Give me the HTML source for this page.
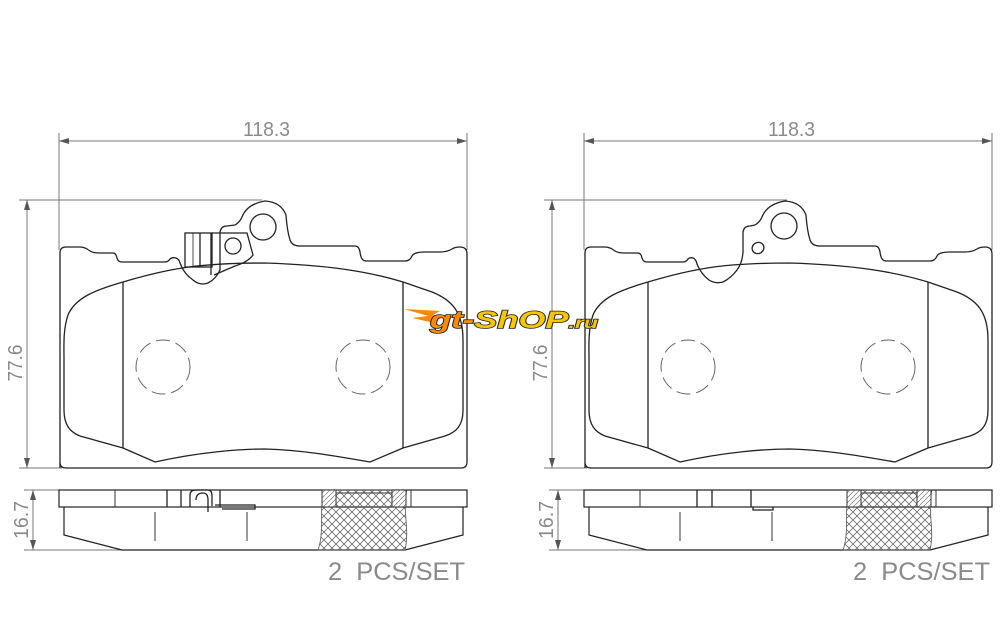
<!DOCTYPE html>
<html><head><meta charset="utf-8"><style>
html,body{margin:0;padding:0;background:#fff;}
svg{display:block}
text{font-family:"Liberation Sans",sans-serif;fill:#8a8a8a;}
</style></head><body>
<svg width="1000" height="636" viewBox="0 0 1000 636" xmlns="http://www.w3.org/2000/svg">
<defs>
<pattern id="hx" width="8" height="8" patternUnits="userSpaceOnUse">
<path d="M0 0L8 8M8 0L0 8" stroke="#555" stroke-width="0.7"/>
</pattern>
<pattern id="hd" width="5" height="5" patternUnits="userSpaceOnUse">
<path d="M0 5L5 0" stroke="#777" stroke-width="0.7"/>
</pattern>
<marker id="ar" markerWidth="10" markerHeight="6" refX="10" refY="3" orient="auto-start-reverse" markerUnits="userSpaceOnUse">
<path d="M0 0L10 3L0 6z" fill="#555"/>
</marker>
<g id="common">
<g stroke="#777" stroke-width="1" fill="none">
<line x1="59" y1="133" x2="59" y2="250"/>
<line x1="467" y1="133" x2="467" y2="250"/>
<line x1="59" y1="141" x2="467" y2="141" marker-end="url(#ar)" marker-start="url(#ar)"/>
<line x1="19" y1="200" x2="262" y2="200"/>
<line x1="19" y1="468" x2="62" y2="468"/>
<line x1="27" y1="200" x2="27" y2="468" marker-end="url(#ar)" marker-start="url(#ar)"/>
<line x1="24" y1="490" x2="60" y2="490"/>
<line x1="24" y1="550" x2="122" y2="550"/>
<line x1="33" y1="490" x2="33" y2="550" marker-end="url(#ar)" marker-start="url(#ar)"/>
</g>
<text x="243" y="136" font-size="20" textLength="47" lengthAdjust="spacingAndGlyphs">118.3</text>
<text transform="translate(22,363) rotate(-90)" font-size="20" text-anchor="middle" textLength="37" lengthAdjust="spacingAndGlyphs">77.6</text>
<text transform="translate(28,520) rotate(-90)" font-size="20" text-anchor="middle" textLength="38" lengthAdjust="spacingAndGlyphs">16.7</text>
<text x="328" y="580" font-size="25" textLength="137" lengthAdjust="spacingAndGlyphs" xml:space="preserve">2  PCS/SET</text>
<g stroke="#222" stroke-width="1.3" fill="none">
<path d="M123 282 C95 290 75 298 68 315 C63 330 64 345 64 360 L64 410 C64 425 70 432 80 436 L123 448"/>
<path d="M123 282 C170 268 200 263 265 263 C330 265 370 272 403 282"/>
<path d="M403 282 L432 292 C452 300 463 312 463 340 L463 410 C463 425 457 432 445 436 L403 448"/>
<path d="M123 448 L155 462 C200 452 240 449 265 449 C300 450 330 455 370 462 L403 448"/>
<line x1="123" y1="282" x2="123" y2="448"/>
<line x1="403" y1="282" x2="403" y2="448"/>
</g>
<g stroke="#666" stroke-width="1" fill="none" stroke-dasharray="14 6">
<circle cx="163" cy="367" r="27"/>
<circle cx="363" cy="367" r="27"/>
</g>
<g stroke="#222" stroke-width="1.2" fill="none">
<rect x="59" y="490" width="408" height="17"/>
<path d="M64 507 L64 535 L122 550 L405 550 L463 535 L463 507"/>
</g>
<path d="M325 490 L407 490 C402 510 410 530 405 550 L318 550 C325 530 318 510 325 490z" fill="url(#hx)" stroke="#555" stroke-width="0.8"/>
<rect x="322" y="490" width="14" height="17" fill="#fff"/>
<rect x="322" y="490" width="14" height="17" fill="url(#hd)" stroke="#333"/>
<rect x="392" y="490" width="14" height="17" fill="#fff"/>
<rect x="392" y="490" width="14" height="17" fill="url(#hd)" stroke="#333"/>
<line x1="336" y1="493" x2="392" y2="493" stroke="#333"/>
<g stroke="#333" stroke-width="1">
<line x1="115" y1="490" x2="115" y2="507"/>
<line x1="155" y1="512" x2="155" y2="541"/>
<line x1="247" y1="512" x2="247" y2="541"/>
<line x1="411" y1="490" x2="411" y2="507"/>
</g>
</g>
</defs>

<use href="#common"/>
<g stroke="#222" stroke-width="1.3" fill="none">
<path d="M60 468 L60 253 Q60 247 66 247 L80 247 Q85 247 90 251 Q93 253 100 253 L113 253 Q116 253 117 258 Q118 262 122 262 L165 262 Q168 262 170 259 Q172 257 176 258 Q179 259 180 263 Q184 274 193 280 Q200 286 208 283 Q216 279 220 270 L220 232 Q221 226 227 226 L235 225 Q240 222 242 217 Q247 204 265 201 Q281 202 286 215 Q287 230 290 240 Q292 246 300 246 L355 246 Q359 246 360 252 Q361 261 366 261 L405 261 Q410 261 412 256 Q414 252 425 252 L440 252 Q447 252 452 249 Q455 247 460 247 Q467 247 467 254 L467 462 Q467 468 461 468 L66 468 Q60 468 60 462"/>
<circle cx="263" cy="227" r="13"/>
<circle cx="233" cy="246" r="8"/>
<rect x="185" y="233" width="27" height="34"/>
<line x1="193" y1="233" x2="193" y2="267" stroke-width="0.8"/>
<line x1="200" y1="233" x2="200" y2="267"/>
<line x1="211" y1="233" x2="211" y2="275"/>
<path d="M212 233 L247 233 L253 255 Q248 262 235 266 L214 275"/>
<path d="M190 507 L190 495 Q190 490 196 490 L208 490 Q212 490 212 496 L212 506 M196 500 Q196 493 203 493 Q208 493 208 500 L208 512 M215 505 L255 505 L255 509 L222 509"/>
<line x1="181" y1="490" x2="181" y2="507"/>
<line x1="167" y1="490" x2="167" y2="507"/>
<line x1="220" y1="490" x2="220" y2="507"/>
</g>

<g transform="translate(525,0)">
<use href="#common"/>
<g stroke="#222" stroke-width="1.3" fill="none">
<path d="M60 468 L60 253 Q60 247 66 247 L80 247 Q85 247 90 251 Q93 253 100 253 L113 253 Q116 253 117 258 Q118 262 122 262 L158 262 Q161 262 163 259 Q165 257 168 258 Q171 259 172 264 Q176 274 184 280 Q190 284 198 282 Q206 278 212 270 Q218 262 218 250 L218 232 Q219 226 225 226 L230 225 Q235 222 237 217 Q242 204 260 201 Q276 202 281 215 Q282 230 285 240 Q287 246 295 246 L350 246 Q354 246 355 252 Q356 261 361 261 L405 261 Q410 261 412 256 Q414 252 425 252 L440 252 Q447 252 452 249 Q455 247 460 247 Q467 247 467 254 L467 462 Q467 468 461 468 L66 468 Q60 468 60 462"/>
<circle cx="259" cy="226" r="13"/>
<ellipse cx="233" cy="248" rx="6" ry="5.5" transform="rotate(-30 233 248)"/>
<line x1="172" y1="490" x2="172" y2="507"/>
<line x1="187" y1="490" x2="187" y2="507"/>
<line x1="226" y1="490" x2="226" y2="507"/>
<path d="M228 507 L228 510 L248 510 L248 507"/>
</g>
</g>

<g>
<path d="M404 309 L440 311 L433 315 L446 315 L438 320 L430 322 L412 318 L428 316 Z" fill="#ff8a00"/>
<text x="430" y="328" font-size="24" font-weight="bold" font-style="italic" textLength="168" lengthAdjust="spacingAndGlyphs" style="stroke:#222;stroke-width:1.5;paint-order:stroke" font-family="Liberation Sans"><tspan style="fill:#ff8c00">gt-</tspan><tspan style="fill:#f7c600">ShOP</tspan><tspan style="fill:#f7c600" font-size="16">.ru</tspan></text>
</g>
</svg>
</body></html>
